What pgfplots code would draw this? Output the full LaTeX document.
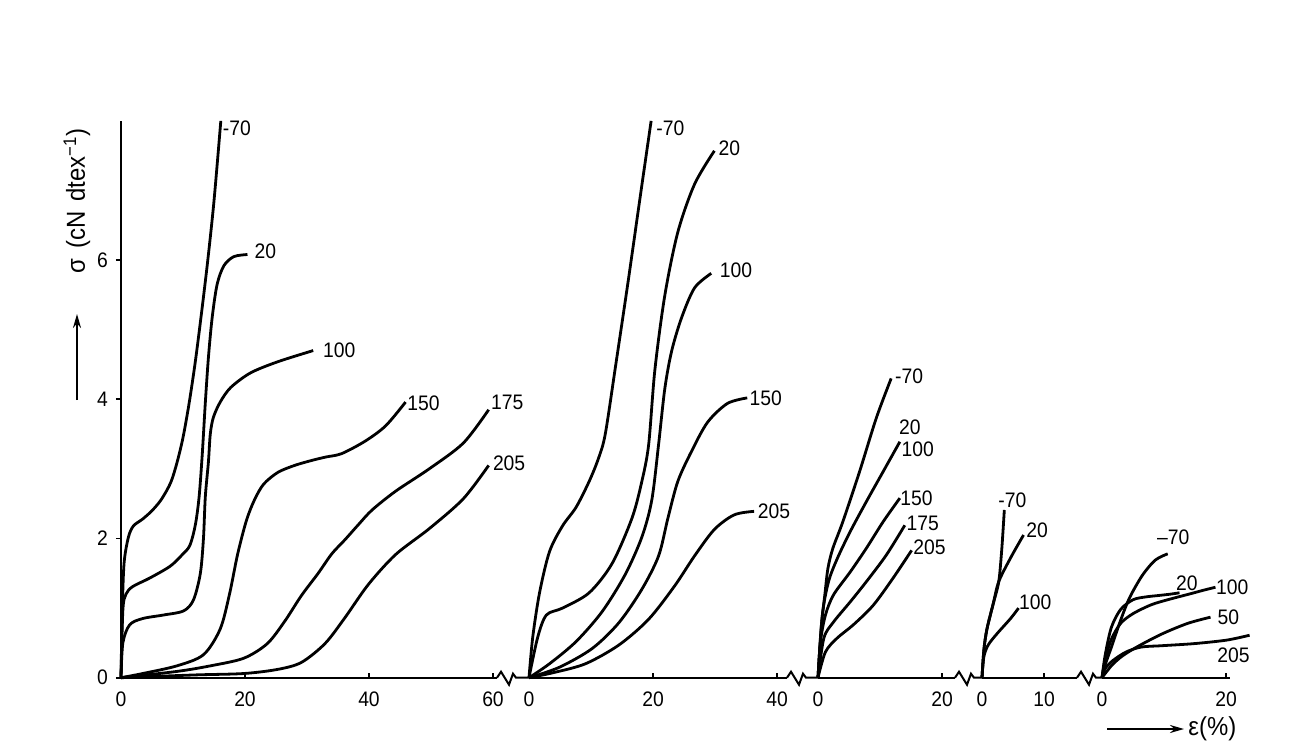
\documentclass[border=0pt]{standalone}
\usepackage{fontspec}
\setmainfont{Liberation Sans}[FakeStretch=0.92]
\usepackage{pgfplots}
\pgfplotsset{compat=1.18}
\usetikzlibrary{arrows.meta}
\pgfplotsset{
  crv/.style={black, line width=1.4pt, smooth, tension=0.5, mark=none},
  seg/.style={
    anchor=south west,
    x=3.1pt, y=34.8pt,
    xmin=0, ymin=0, ymax=8,
    clip=false,
    axis line style={line width=1pt, black},
    tick align=inside,
    major tick length=2.5pt,
    tick style={line width=0.8pt, black},
    y tick style={xshift=-2.5pt},
    /pgf/number format/assume math mode=true,
    xticklabel style={font=\fontsize{10.5}{12}\selectfont, yshift=-3.5pt},
    yticklabel style={font=\fontsize{10.5}{12}\selectfont, xshift=-3pt},
  },
}
\tikzset{lbl/.style={font=\fontsize{10.5}{12}\selectfont, inner sep=0pt}}
\newcommand{\brk}[2]{\draw[line width=1pt, line join=miter] (#1,68.3) -- ++(4,6) -- ++(8,-13) -- ++(4,11) -- ++(3,-4) -- (#2,68.3);}
\begin{document}
\begin{tikzpicture}
\path[fill=white] (0,0) rectangle (648.5pt,373pt);

% ---------- segment 1 ----------
\begin{axis}[seg, at={(60.5pt,34.15pt)}, xmax=60.6,
  axis lines*=left, xtick={0,20,40,60}, ytick={0,2,4,6}]
\addplot[crv] coordinates {(0,0) (0.2,0.95) (0.5,1.65) (1.2,2.02) (2,2.18) (3.5,2.28) (5,2.4) (6.5,2.56) (8,2.8) (9,3.08) (10,3.45) (11,3.95) (12,4.55) (13,5.25) (14,6.0) (15,6.85) (16.1,8.0)};
\addplot[crv] coordinates {(0,0) (0.3,0.97) (0.8,1.2) (1.9,1.31) (4.6,1.43) (7.9,1.6) (9.8,1.76) (11.1,1.9) (12.0,2.2) (12.6,2.6) (13.1,3.2) (13.6,3.95) (14.1,4.6) (14.7,5.17) (15.5,5.65) (16.6,5.92) (18.2,6.05) (20.4,6.08)};
\addplot[crv] coordinates {(0,0) (0.3,0.5) (1.4,0.76) (3.5,0.85) (6.8,0.9) (10.1,0.96) (11.7,1.12) (12.8,1.5) (13.3,2.0) (13.6,2.6) (14.1,3.1) (14.4,3.5) (14.9,3.74) (16,3.96) (17.7,4.17) (20.9,4.38) (25.3,4.54) (31,4.7)};
\addplot[crv] coordinates {(0,0) (3.5,0.06) (9,0.17) (13.3,0.33) (16,0.7) (17.5,1.2) (18.8,1.77) (20.2,2.25) (21.5,2.55) (23,2.78) (25.3,2.95) (28,3.05) (30.7,3.12) (33,3.17) (35.6,3.22) (39.4,3.4) (42.7,3.62) (45.9,3.96)};
\addplot[crv] coordinates {(0,0) (9,0.09) (14.4,0.17) (19.8,0.28) (23.6,0.49) (26.4,0.81) (29.1,1.18) (31.8,1.5) (34,1.78) (36.1,1.98) (38.3,2.2) (40.5,2.41) (44.3,2.68) (49.7,3.0) (55.2,3.37) (59.3,3.85)};
\addplot[crv] coordinates {(0,0) (12,0.04) (19.8,0.06) (25.3,0.12) (29.1,0.22) (32.9,0.49) (36.1,0.86) (39.9,1.34) (44.3,1.77) (49.7,2.14) (55.2,2.57) (59.3,3.05)};
\node[lbl] at (axis cs:18.7,7.9) {-70};
\node[lbl] at (axis cs:23.3,6.12) {20};
\node[lbl] at (axis cs:35.2,4.7) {100};
\node[lbl] at (axis cs:48.8,3.95) {150};
\node[lbl] at (axis cs:62.3,3.96) {175};
\node[lbl] at (axis cs:62.6,3.08) {205};
\end{axis}

% ---------- segment 2 ----------
\begin{axis}[seg, at={(264.5pt,34.15pt)}, xmax=41.6,
  axis x line*=bottom, axis y line=none, xtick={0,20,40}, ytick=\empty]
\addplot[crv] coordinates {(0,0) (0.6,0.58) (1.7,1.22) (3.3,1.81) (5.4,2.18) (7.6,2.45) (9.7,2.82) (11.2,3.15) (12.3,3.5) (14,4.5) (16,5.7) (18,6.95) (19.7,8.0)};
\addplot[crv] coordinates {(0,0) (1.4,0.58) (2.8,0.9) (5.4,1.0) (9.7,1.22) (13.4,1.64) (16.6,2.29) (18.2,2.82) (19.3,3.35) (20.3,4.42) (21.9,5.49) (24,6.4) (26.7,7.09) (29.9,7.57)};
\addplot[crv] coordinates {(0,0) (3.3,0.2) (7.6,0.52) (11.8,0.95) (15.5,1.48) (18.2,2.02) (19.8,2.55) (20.9,3.35) (21.9,4.15) (23,4.69) (24.6,5.17) (26.7,5.6) (29.4,5.81)};
\addplot[crv] coordinates {(0,0) (4.9,0.15) (10.2,0.42) (14.5,0.79) (18.2,1.27) (20.9,1.75) (22.4,2.29) (24,2.82) (26.2,3.25) (28.8,3.67) (32,3.94) (35.2,4.02)};
\addplot[crv] coordinates {(0,0) (3.8,0.07) (9.1,0.2) (14.5,0.47) (19.3,0.84) (23.5,1.32) (26.7,1.75) (29.9,2.13) (33.1,2.34) (36.3,2.39)};
\node[lbl] at (axis cs:22.8,7.9) {-70};
\node[lbl] at (axis cs:32.3,7.6) {20};
\node[lbl] at (axis cs:33.4,5.85) {100};
\node[lbl] at (axis cs:38.2,4.02) {150};
\node[lbl] at (axis cs:39.5,2.39) {205};
\end{axis}

% ---------- segment 3 ----------
\begin{axis}[seg, at={(409pt,34.15pt)}, xmax=22.1,
  axis x line*=bottom, axis y line=none, xtick={0,20}, ytick=\empty]
\addplot[crv] coordinates {(0,0) (0.5,0.71) (1.1,1.19) (1.6,1.57) (2.4,1.86) (4.0,2.24) (6.7,2.96) (9.4,3.73) (11.8,4.3)};
\addplot[crv] coordinates {(0,0) (0.7,0.9) (1.7,1.38) (3.1,1.71) (5.2,2.1) (7.8,2.53) (10.5,2.96) (13.2,3.39)};
\addplot[crv] coordinates {(0,0) (0.4,0.52) (1.2,0.9) (2.5,1.19) (5.2,1.52) (7.8,1.86) (10.5,2.24) (13.2,2.58)};
\addplot[crv] coordinates {(0,0) (0.95,0.57) (2.5,0.8) (5.2,1.09) (7.8,1.38) (11,1.76) (14.0,2.19)};
\addplot[crv] coordinates {(0,0) (1.2,0.37) (3.1,0.57) (5.7,0.76) (8.9,1.04) (12.1,1.43) (15.1,1.83)};
\node[lbl] at (axis cs:14.7,4.33) {-70};
\node[lbl] at (axis cs:14.8,3.6) {20};
\node[lbl] at (axis cs:16.1,3.28) {100};
\node[lbl] at (axis cs:15.9,2.58) {150};
\node[lbl] at (axis cs:16.9,2.22) {175};
\node[lbl] at (axis cs:18.0,1.88) {205};
\end{axis}

% ---------- segment 4 ----------
\begin{axis}[seg, at={(491pt,34.15pt)}, xmax=15.3,
  axis x line*=bottom, axis y line=none, xtick={0,10}, ytick=\empty]
\addplot[crv] coordinates {(0,0) (0.3,0.4) (0.8,0.7) (1.8,1.06) (2.7,1.38) (3.2,1.86) (3.6,2.41)};
\addplot[crv] coordinates {(0,0) (0.3,0.4) (0.8,0.7) (1.8,1.06) (2.7,1.38) (4.6,1.72) (6.7,2.05)};
\addplot[crv] coordinates {(0,0) (0.3,0.3) (1,0.47) (2.4,0.63) (4.6,0.85) (5.9,1.0)};
\node[lbl] at (axis cs:4.9,2.55) {-70};
\node[lbl] at (axis cs:8.9,2.12) {20};
\node[lbl] at (axis cs:8.6,1.09) {100};
\end{axis}

% ---------- segment 5 ----------
\begin{axis}[seg, at={(551pt,34.15pt)}, xmax=20.6,
  axis x line*=bottom, axis y line=none, xtick={0,20}, ytick=\empty]
\addplot[crv] coordinates {(0,0) (0.5,0.18) (1.6,0.46) (2.9,0.8) (4.4,1.14) (6.5,1.47) (8.6,1.69) (10.6,1.78)};
\addplot[crv] coordinates {(0,0) (0.5,0.32) (1.5,0.72) (3,0.98) (5,1.12) (7,1.16) (9,1.18) (11,1.2) (12.5,1.22)};
\addplot[crv] coordinates {(0,0) (0.5,0.25) (1.5,0.55) (3,0.78) (5,0.92) (8,1.05) (11,1.13) (14,1.2) (16.5,1.26) (18.3,1.3)};
\addplot[crv] coordinates {(0,0) (1.6,0.18) (3.4,0.32) (6,0.46) (9.7,0.63) (13.8,0.78) (17.5,0.87)};
\addplot[crv] coordinates {(0,0) (0.5,0.13) (1.8,0.25) (3.9,0.37) (6.3,0.44) (9.7,0.46) (14.9,0.49) (20.1,0.54) (23.8,0.61)};
\node[lbl] at (axis cs:11.5,2.02) {–70};
\node[lbl] at (axis cs:13.7,1.36) {20};
\node[lbl] at (axis cs:21.0,1.3) {100};
\node[lbl] at (axis cs:20.4,0.87) {50};
\node[lbl] at (axis cs:21.2,0.32) {205};
\end{axis}

% ---------- decorations (px units) ----------
\begin{scope}[x=0.5pt, y=0.5pt]
\brk{497}{529}
\brk{787}{818}
\brk{955}{982}
\brk{1077}{1102}
\node[rotate=90, font=\fontsize{13}{15}\selectfont] at (77,545) {σ\hspace{0.4em}(cN\hspace{0.35em}dtex\textsuperscript{−1})};
\draw[line width=1pt, -{Stealth[length=7pt, width=4pt]}] (77,346) -- (77,432);
\draw[line width=1pt, -{Stealth[length=7pt, width=4pt]}] (1107,17) -- (1184,17);
\node[anchor=west, font=\fontsize{13}{15}\selectfont, inner sep=1pt] at (1186,17) {ε(\%)};
\end{scope}
\end{tikzpicture}
\end{document}
